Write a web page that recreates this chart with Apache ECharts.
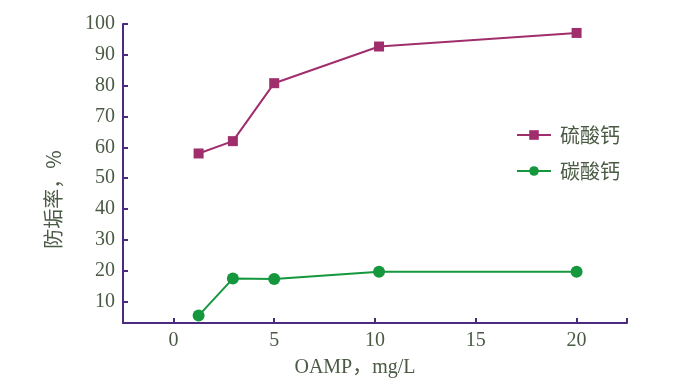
<!DOCTYPE html>
<html><head><meta charset="utf-8">
<script src="https://cdn.jsdelivr.net/npm/echarts@6/dist/echarts.min.js"></script>
<style>html,body{margin:0;padding:0;background:#fff}#c{width:683px;height:384px}</style>
</head><body><div id="c"></div>
<script>
const xValues = [1.25, 2.95, 5, 10.2, 20];
const sulfate = [58, 62, 80.8, 92.7, 97.1];
const carbonate = [5.4, 17.4, 17.3, 19.6, 19.6];
const seriesNames = ['硫酸钙', '碳酸钙'];
const xTicks = [0, 5, 10, 15, 20, 22.5];
const xLabels = [0, 5, 10, 15, 20];
const yTicks = [10, 20, 30, 40, 50, 60, 70, 80, 90, 100];

const axisColor = '#4b2a80';
const textColor = '#4a5a44';
const serif = '"Liberation Serif", "Noto Sans CJK SC", serif';
const cjk = '"Noto Sans CJK SC", sans-serif';

const chart = echarts.init(document.getElementById('c'));
chart.setOption({
  animation: false,
  grid: {left: 123, right: 56, top: 24, bottom: 61},
  legend: {
    orient: 'vertical', left: 511, top: 120,
    itemWidth: 34, itemHeight: 12, itemGap: 16,
    textStyle: {fontFamily: cjk, fontSize: 20, color: textColor, padding: [0, 0, 0, 4]},
    data: seriesNames
  },
  xAxis: {
    type: 'value', min: -2.5, max: 22.5,
    name: 'OAMP，mg/L', nameLocation: 'middle', nameGap: 35,
    nameTextStyle: {fontFamily: serif, fontSize: 20, color: textColor, padding: [0, 40, 0, 0]},
    axisLine: {onZero: false, lineStyle: {color: axisColor, width: 2}},
    axisTick: {inside: true, length: 5, lineStyle: {color: axisColor, width: 2}, customValues: xTicks},
    axisLabel: {fontFamily: serif, fontSize: 20, color: textColor, margin: 8, customValues: xLabels},
    splitLine: {show: false}
  },
  yAxis: {
    type: 'value', min: 3, max: 100,
    name: '防垢率，%', nameLocation: 'middle', nameGap: 60,
    nameTextStyle: {fontFamily: cjk, fontSize: 20, color: textColor, padding: [0, 52, 0, 0]},
    axisLine: {onZero: false, lineStyle: {color: axisColor, width: 2}},
    axisTick: {inside: true, length: 5, lineStyle: {color: axisColor, width: 2}, customValues: yTicks},
    axisLabel: {fontFamily: serif, fontSize: 20, color: textColor, margin: 8, customValues: yTicks},
    splitLine: {show: false}
  },
  series: [
    {
      name: seriesNames[0], type: 'line', symbol: 'rect', symbolSize: 10,
      data: xValues.map((x, i) => [x, sulfate[i]]),
      lineStyle: {color: '#a02e6c', width: 2}, itemStyle: {color: '#a02e6c'}
    },
    {
      name: seriesNames[1], type: 'line', symbol: 'circle', symbolSize: 12,
      data: xValues.map((x, i) => [x, carbonate[i]]),
      lineStyle: {color: '#15973e', width: 2}, itemStyle: {color: '#15973e'}
    }
  ]
});
</script></body></html>
